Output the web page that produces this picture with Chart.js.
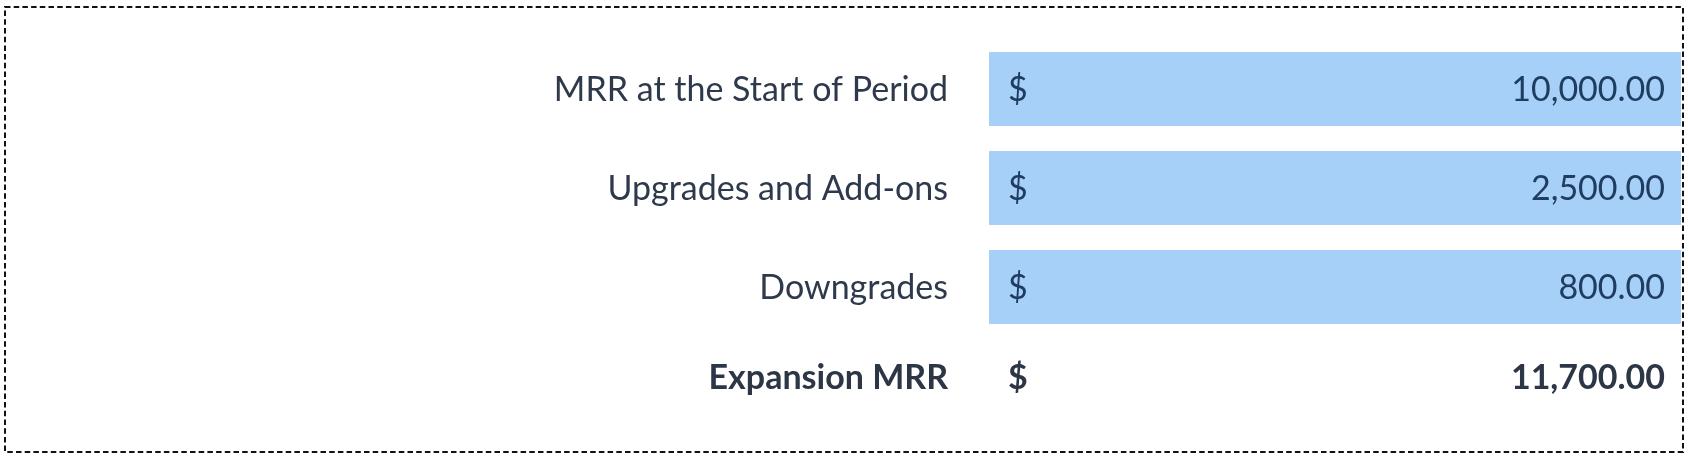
<!DOCTYPE html>
<html>
<head>
<meta charset="utf-8">
<script src="https://cdn.jsdelivr.net/npm/chart.js@4"></script>
<style>
  html, body { margin: 0; padding: 0; background: #fff; }
  #wrap { width: 1689px; height: 457px; position: relative; }
</style>
</head>
<body>
<div id="wrap"><canvas id="myChart"></canvas></div>
<script>
const categories = ['MRR at the Start of Period', 'Upgrades and Add-ons', 'Downgrades', 'Expansion MRR'];
const amounts = [10000, 2500, 800, 11700];
// rows with a shaded input cell; the last row is the total
const shaded = [true, true, true, false];
const currency = '$';

const labelFont = "Lato, 'Open Sans', sans-serif";

// dashed frame round the whole picture
const framePlugin = {
    id: 'frame',
    afterDraw(chart) {
        const ctx = chart.ctx;
        ctx.save();
        ctx.strokeStyle = '#111';
        ctx.lineWidth = 2;
        ctx.setLineDash([5.5, 3.2]);
        ctx.strokeRect(5, 7, chart.width - 11, chart.height - 12);
        ctx.restore();
    }
};

// row label, "$" and the amount for each row
const textPlugin = {
    id: 'rowText',
    afterDatasetsDraw(chart) {
        const ctx = chart.ctx;
        const x = chart.scales.x;
        const y = chart.scales.y;
        ctx.save();
        ctx.textBaseline = 'middle';
        categories.forEach((cat, i) => {
            const total = !shaded[i];
            const py = y.getPixelForValue(i) + (total ? -8 : 1);
            ctx.font = (total ? '700 ' : '400 ') + '34px ' + labelFont;

            ctx.fillStyle = total ? '#2c3645' : '#2e3a4b';
            ctx.textAlign = 'right';
            ctx.fillText(cat, x.getPixelForValue(0) - 41, py);

            ctx.fillStyle = total ? '#2c3645' : '#1f3d60';
            ctx.textAlign = 'left';
            ctx.fillText(currency, x.getPixelForValue(0) + 19, py);
            ctx.textAlign = 'right';
            ctx.fillText(amounts[i].toLocaleString('en-US', { minimumFractionDigits: 2, maximumFractionDigits: 2 }),
                x.getPixelForValue(1) - 16, py);
        });
        ctx.restore();
    }
};

var ctx = document.getElementById('myChart').getContext('2d');
var myChart = new Chart(ctx, {
    type: 'bar',
    data: {
        labels: categories,
        datasets: [{
            label: 'Amount',
            data: shaded.map(s => s ? 1 : null),
            backgroundColor: '#a6d0f7',
            borderWidth: 0,
            barPercentage: 1,
            categoryPercentage: 0.747
        }]
    },
    options: {
        indexAxis: 'y',
        responsive: true,
        maintainAspectRatio: false,
        animation: false,
        layout: { padding: { top: 39.5, bottom: 21.5, right: 8, left: 989 } },
        plugins: {
            legend: { display: false },
            tooltip: { enabled: false }
        },
        scales: {
            x: { display: false, min: 0, max: 1 },
            y: { display: false }
        }
    },
    plugins: [framePlugin, textPlugin]
});
</script>
</body>
</html>
